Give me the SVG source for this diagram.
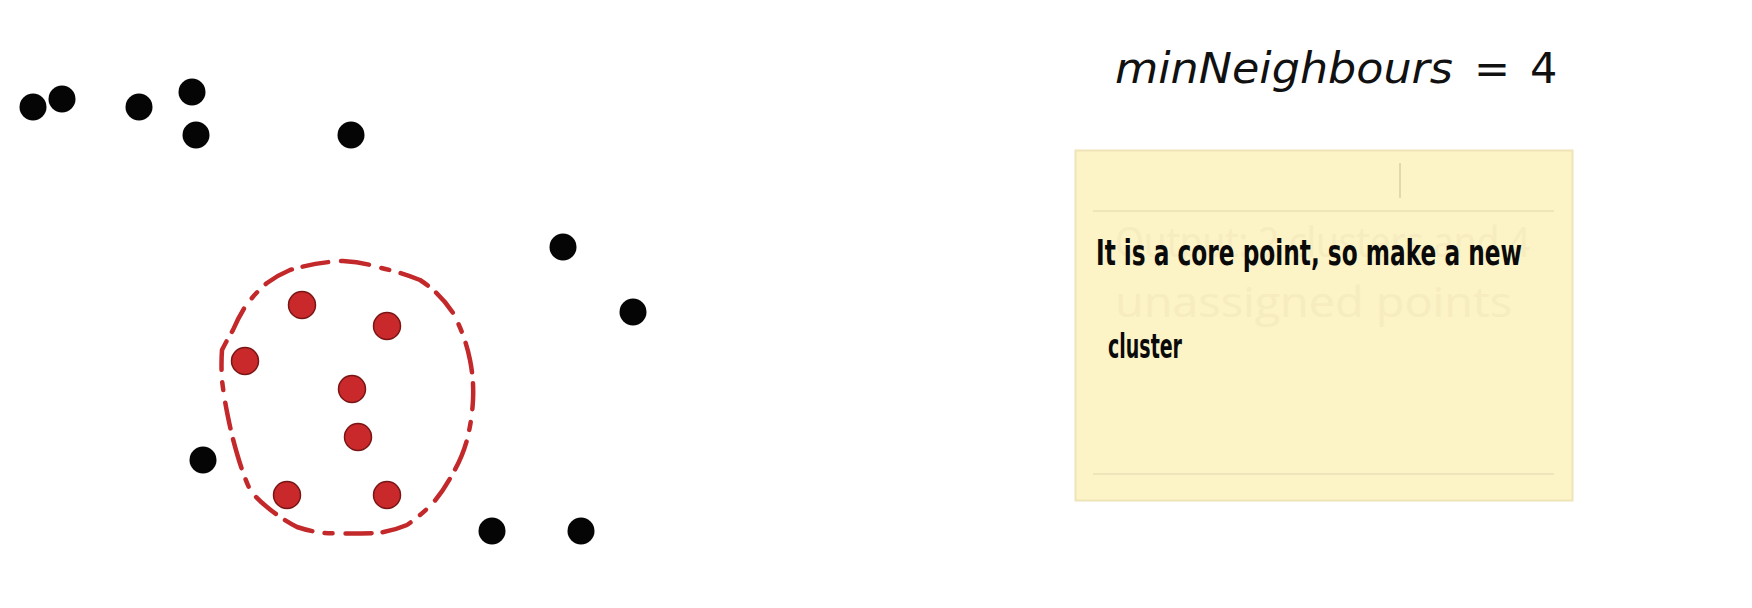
<svg xmlns="http://www.w3.org/2000/svg" width="1752" height="608" viewBox="0 0 1752 608">
<style>
.pt{fill:#050505}
.core{fill:#c9292b;stroke:#7a1515;stroke-width:1.5}
.title{font-family:"DejaVu Sans",sans-serif;font-size:43px;fill:#111}
.hand{font-family:"DejaVu Sans","Liberation Sans",sans-serif;font-weight:bold;fill:#0a0a0a}
.ghost{font-family:"Open Sans","DejaVu Sans",sans-serif;font-size:42px;fill:#f6ecc0}
.rule{stroke:#ebe0b6;stroke-width:1.5}
</style>
<rect width="1752" height="608" fill="#ffffff"/>
<g id="points">
<circle class="pt" cx="33" cy="107" r="13.5"/>
<circle class="pt" cx="62" cy="99" r="13.5"/>
<circle class="pt" cx="139" cy="107" r="13.5"/>
<circle class="pt" cx="192" cy="92" r="13.5"/>
<circle class="pt" cx="196" cy="135" r="13.5"/>
<circle class="pt" cx="351" cy="135" r="13.5"/>
<circle class="pt" cx="563" cy="247" r="13.5"/>
<circle class="pt" cx="633" cy="312" r="13.5"/>
<circle class="pt" cx="203" cy="460" r="13.5"/>
<circle class="pt" cx="492" cy="531" r="13.5"/>
<circle class="pt" cx="581" cy="531" r="13.5"/>
</g>
<g id="cluster">
<path d="M343,261 Q362,262 377,267 Q400,272 420,280 Q440,293 453,313 Q465,335 470,360 Q474,380 473,400 Q472,420 467,440 Q462,458 453,473 Q444,490 433,503 Q420,516 407,525 Q393,531 377,533 Q350,534 323,533 Q309,531 297,527 Q280,518 267,507 Q257,499 250,490 Q243,474 238,457 Q232,437 228,417 Q224,398 222,380 Q221,364 222,350 Q227,340 233,330 Q238,318 245,307 Q255,293 267,283 Q278,275 290,270 Q317,262 343,261 Z" fill="none" stroke="#c3282a" stroke-width="4.5" stroke-linecap="round" stroke-linejoin="round" stroke-dasharray="26 13 8 12 30 11"/>
<circle class="core" cx="302" cy="305" r="13.5"/>
<circle class="core" cx="387" cy="326" r="13.5"/>
<circle class="core" cx="245" cy="361" r="13.5"/>
<circle class="core" cx="352" cy="389" r="13.5"/>
<circle class="core" cx="358" cy="437" r="13.5"/>
<circle class="core" cx="287" cy="495" r="13.5"/>
<circle class="core" cx="387" cy="495" r="13.5"/>
</g>
<g id="param">
<text class="title" x="1115" y="83" font-style="italic" textLength="338" lengthAdjust="spacingAndGlyphs">minNeighbours</text>
<text class="title" x="1474" y="83">=</text>
<text class="title" x="1530" y="83">4</text>
</g>
<g id="note">
<rect x="1075.5" y="150.5" width="497" height="350" fill="#fcf3c6" stroke="#efe4b8" stroke-width="2"/>
<line class="rule" x1="1093" y1="211" x2="1554" y2="211"/>
<line class="rule" x1="1093" y1="474" x2="1554" y2="474"/>
<line x1="1400" y1="163" x2="1400" y2="198" stroke="#d9cfa6" stroke-width="1.5"/>
<text class="ghost" x="1115" y="257" textLength="415" lengthAdjust="spacingAndGlyphs">Output: 2 clusters and 4</text>
<text class="ghost" x="1115" y="317" textLength="397" lengthAdjust="spacingAndGlyphs">unassigned points</text>
<text class="hand" x="1096" y="265" font-size="36" textLength="426" lengthAdjust="spacingAndGlyphs">It is a core point, so make a new</text>
<text class="hand" x="1108" y="358" font-size="34" textLength="74" lengthAdjust="spacingAndGlyphs">cluster</text>
</g>
</svg>
